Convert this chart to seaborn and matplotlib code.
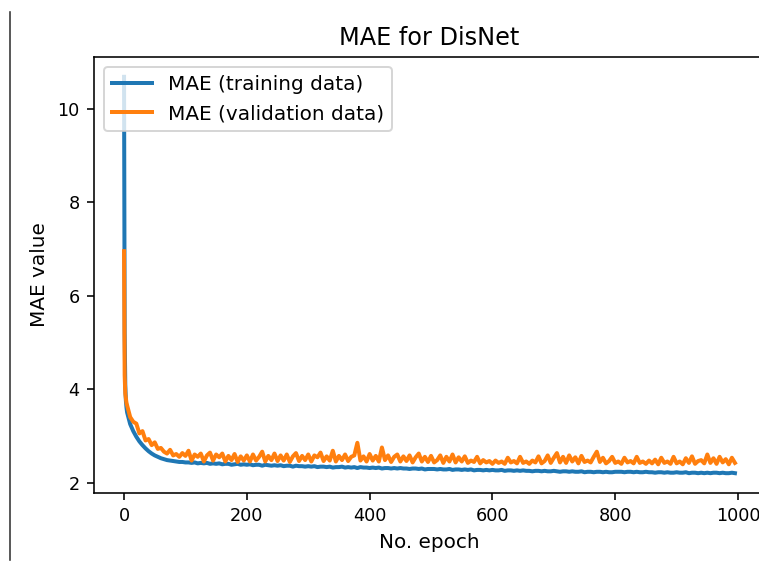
import matplotlib
matplotlib.use("Agg")
import matplotlib.pyplot as plt
from matplotlib.lines import Line2D
import seaborn as sns

# epochs: first few one by one, then every 5th epoch
epochs = [0, 1, 2, 3, 4] + list(range(5, 1000, 5))

mae_train = [
    10.68, 5.20, 4.10, 3.75, 3.60,
    3.50, 3.25, 3.10, 2.98, 2.88, 2.80, 2.73, 2.67, 2.62, 2.58,
    2.55, 2.52, 2.50, 2.48, 2.47, 2.46, 2.45, 2.44, 2.44, 2.43,
    2.43, 2.42, 2.43, 2.41, 2.42, 2.41, 2.42, 2.40, 2.41, 2.40,
    2.41, 2.39, 2.40, 2.40, 2.38, 2.39, 2.40, 2.38, 2.39, 2.38,
    2.39, 2.37, 2.38, 2.38, 2.36, 2.38, 2.37, 2.36, 2.37, 2.36,
    2.37, 2.35, 2.36, 2.36, 2.34, 2.36, 2.35, 2.35, 2.34, 2.35,
    2.34, 2.35, 2.33, 2.34, 2.34, 2.33, 2.34, 2.32, 2.33, 2.33,
    2.34, 2.32, 2.33, 2.32, 2.33, 2.31, 2.33, 2.32, 2.32, 2.31,
    2.32, 2.31, 2.32, 2.30, 2.31, 2.31, 2.30, 2.31, 2.30, 2.31,
    2.30, 2.30, 2.29, 2.30, 2.30, 2.29, 2.30, 2.28, 2.29, 2.29,
    2.29, 2.28, 2.29, 2.28, 2.28, 2.29, 2.27, 2.28, 2.28, 2.27,
    2.28, 2.27, 2.28, 2.26, 2.27, 2.27, 2.26, 2.27, 2.26, 2.27,
    2.26, 2.26, 2.27, 2.25, 2.26, 2.26, 2.25, 2.26, 2.25, 2.26,
    2.25, 2.25, 2.24, 2.25, 2.25, 2.24, 2.25, 2.24, 2.24, 2.25,
    2.24, 2.23, 2.24, 2.24, 2.23, 2.24, 2.23, 2.23, 2.24, 2.22,
    2.23, 2.23, 2.22, 2.23, 2.23, 2.22, 2.23, 2.22, 2.22, 2.23,
    2.23, 2.23, 2.22, 2.23, 2.23, 2.22, 2.23, 2.22, 2.22, 2.23,
    2.22, 2.22, 2.21, 2.22, 2.22, 2.21, 2.22, 2.21, 2.21, 2.22,
    2.21, 2.21, 2.22, 2.20, 2.21, 2.21, 2.20, 2.21, 2.20, 2.21,
    2.20, 2.21, 2.21, 2.20, 2.21, 2.20, 2.20, 2.21, 2.20,
]

mae_val = [
    6.95, 4.30, 3.90, 3.80, 3.70,
    3.65, 3.40, 3.30, 3.26, 3.05, 3.10, 2.90, 2.93, 2.80, 2.86,
    2.72, 2.74, 2.66, 2.62, 2.70, 2.58, 2.61, 2.55, 2.63, 2.57,
    2.68, 2.47, 2.60, 2.55, 2.62, 2.45, 2.58, 2.64, 2.47, 2.60,
    2.54, 2.62, 2.45, 2.57, 2.48, 2.61, 2.44, 2.56, 2.47, 2.58,
    2.45, 2.60, 2.47, 2.55, 2.66, 2.45, 2.57, 2.48, 2.62, 2.46,
    2.58, 2.47, 2.60, 2.44, 2.56, 2.63, 2.46, 2.57, 2.48, 2.60,
    2.45, 2.58, 2.54, 2.64, 2.46, 2.56, 2.47, 2.68, 2.45, 2.57,
    2.48, 2.60, 2.46, 2.55, 2.58, 2.85, 2.47, 2.56, 2.45, 2.61,
    2.47, 2.57, 2.45, 2.75, 2.48, 2.58, 2.44, 2.55, 2.60, 2.45,
    2.56, 2.46, 2.58, 2.43, 2.54, 2.62, 2.45, 2.55, 2.44, 2.57,
    2.43, 2.48, 2.58, 2.42, 2.55, 2.45, 2.60, 2.43, 2.54, 2.45,
    2.56, 2.42, 2.47, 2.44, 2.55, 2.41, 2.48, 2.43, 2.46, 2.40,
    2.47, 2.42, 2.45, 2.40, 2.53, 2.43, 2.46, 2.41, 2.55, 2.42,
    2.45, 2.40, 2.47, 2.43, 2.56, 2.41, 2.46, 2.58, 2.42, 2.53,
    2.63, 2.43, 2.55, 2.42, 2.58, 2.45, 2.54, 2.41, 2.57, 2.44,
    2.47, 2.43, 2.55, 2.66, 2.44, 2.53, 2.41, 2.46, 2.55, 2.42,
    2.45, 2.40, 2.53, 2.43, 2.46, 2.41, 2.55, 2.42, 2.45, 2.40,
    2.47, 2.41, 2.49, 2.39, 2.53, 2.42, 2.45, 2.40, 2.55, 2.41,
    2.45, 2.39, 2.52, 2.42, 2.56, 2.40, 2.46, 2.48, 2.41, 2.60,
    2.42, 2.52, 2.40, 2.55, 2.43, 2.50, 2.39, 2.53, 2.42,
]

fig = plt.figure(figsize=(759 / 144, 563 / 144), dpi=144)
ax = fig.add_axes([93.5 / 759, 70 / 563, 672 / 759, 436 / 563])

sns.lineplot(x=epochs, y=mae_train, ax=ax, lw=2, label="MAE (training data)")
sns.lineplot(x=epochs, y=mae_val, ax=ax, lw=2, label="MAE (validation data)")

ax.set_title("MAE for DisNet")
ax.set_xlabel("No. epoch")
ax.set_ylabel("MAE value")
ax.set_yticks([2, 4, 6, 8, 10])
ax.tick_params(labelsize=8.8)
ax.legend(loc="upper left")

# notebook cell border on the left
fig.add_artist(Line2D([10 / 759, 10 / 759], [3 / 563, 551 / 563],
                      transform=fig.transFigure, color="#333333", lw=0.8))

fig.savefig("out.png", dpi=144)
